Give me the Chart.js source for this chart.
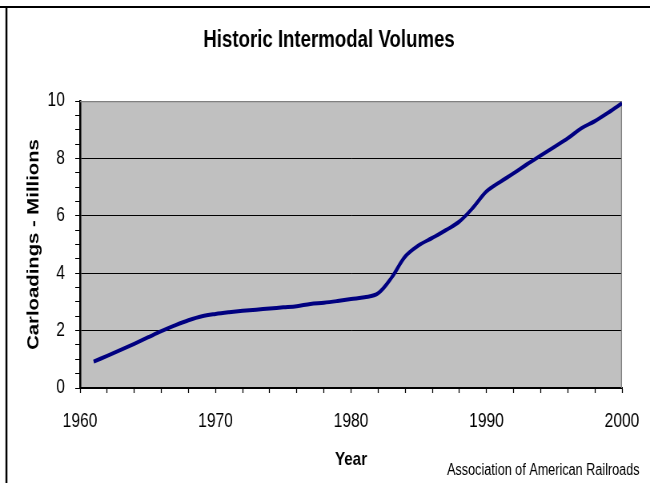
<!DOCTYPE html>
<html>
<head>
<meta charset="utf-8">
<title>Historic Intermodal Volumes</title>
<script src="https://cdn.jsdelivr.net/npm/chart.js@4/dist/chart.umd.min.js"></script>
<style>
  html, body { margin: 0; padding: 0; background: #fff; overflow: hidden; }
  /* the drawing buffer is wider than the box it is shown in, which gives the narrow lettering */
  canvas { display: block; }
</style>
</head>
<body>
<canvas id="chart" width="812" height="483" style="width:650px;height:483px"></canvas>
<script>
// Intermodal carloadings per year, millions
const years = [
  1961, 1962, 1963, 1964, 1965, 1966, 1967, 1968, 1969, 1970,
  1971, 1972, 1973, 1974, 1975, 1976, 1977, 1978, 1979, 1980,
  1981, 1982, 1983, 1984, 1985, 1986, 1987, 1988, 1989, 1990,
  1991, 1992, 1993, 1994, 1995, 1996, 1997, 1998, 1999, 2000
];
const carloadings = [
  0.92, 1.12, 1.33, 1.54, 1.76, 1.98, 2.18, 2.36, 2.50, 2.58,
  2.64, 2.69, 2.73, 2.77, 2.81, 2.85, 2.93, 2.97, 3.03, 3.10,
  3.16, 3.30, 3.85, 4.58, 4.97, 5.23, 5.50, 5.80, 6.28, 6.85,
  7.18, 7.48, 7.80, 8.10, 8.40, 8.70, 9.05, 9.30, 9.60, 9.92
];
const xLabelEvery = 10;   // year labels shown every decade
const yLabelEvery = 2;    // value labels / gridlines every 2 million

const chartTitle = 'Historic Intermodal Volumes';
const yTitle = 'Carloadings - Millions';
const xTitle = 'Year';
const sourceNote = 'Association of American Railroads';

const SANS = "'Liberation Sans', Arial, Helvetica, sans-serif";

// plot frame inside the 812-wide drawing buffer
const PLOT = { left: 100, right: 777, top: 101, bottom: 388 };

// Page background, grey plot area, outer frame, title and source note
const frame = {
  id: 'frame',
  beforeDraw(chart) {
    const { ctx, chartArea: a, width, height } = chart;
    ctx.save();
    ctx.fillStyle = '#ffffff';
    ctx.fillRect(0, 0, width, height);
    ctx.fillStyle = '#c0c0c0';
    ctx.fillRect(a.left, a.top, a.right - a.left, a.bottom - a.top);
    ctx.strokeStyle = '#000000';
    ctx.lineWidth = 2;
    ctx.beginPath();
    ctx.moveTo(0, 7);
    ctx.lineTo(width, 7);
    ctx.stroke();
    ctx.lineWidth = 2.5;
    ctx.beginPath();
    ctx.moveTo(8, 6);
    ctx.lineTo(8, height);
    ctx.stroke();
    ctx.restore();
  },
  beforeDatasetsDraw(chart) {
    const { ctx, chartArea: a } = chart;
    ctx.save();
    ctx.strokeStyle = '#808080';
    ctx.lineWidth = 1.25;
    ctx.beginPath();
    ctx.moveTo(a.left, a.top + 0.5);
    ctx.lineTo(a.right - 0.6, a.top + 0.5);
    ctx.lineTo(a.right - 0.6, a.bottom);
    ctx.stroke();
    ctx.restore();
  },
  afterDraw(chart) {
    const { ctx } = chart;
    ctx.save();
    ctx.fillStyle = '#000000';
    ctx.textBaseline = 'alphabetic';
    ctx.textAlign = 'center';
    ctx.font = `bold 23.3px ${SANS}`;
    ctx.fillText(chartTitle, 411, 47);
    ctx.textAlign = 'right';
    ctx.font = `15.8px ${SANS}`;
    ctx.fillText(sourceNote, 799, 475);
    ctx.restore();
  }
};

const chart = new Chart(document.getElementById('chart'), {
  type: 'line',
  data: {
    datasets: [{
      label: yTitle,
      data: years.map((yr, i) => ({ x: yr, y: carloadings[i] })),
      borderColor: '#000080',
      borderWidth: 4,
      pointRadius: 0,
      tension: 0.35,
      fill: false
    }]
  },
  options: {
    responsive: false,
    animation: false,
    devicePixelRatio: 1,
    layout: { padding: { top: PLOT.top, right: 812 - PLOT.right, left: 0, bottom: 0 } },
    plugins: {
      legend: { display: false },
      tooltip: { enabled: false },
      title: { display: false }
    },
    scales: {
      x: {
        type: 'linear',
        min: 1960,
        max: 2000,
        afterFit(s) {
          s.height = 483 - PLOT.bottom;
          // year labels may hang past the plot edges
          s.paddingLeft = 0;
          s.paddingRight = 0;
        },
        ticks: {
          stepSize: 2,
          autoSkip: false,
          maxRotation: 0,
          padding: 17,
          color: '#000000',
          font: { family: SANS, size: 19.5 },
          callback: v => (v % xLabelEvery === 0 ? String(v) : '')
        },
        grid: {
          drawOnChartArea: false,
          drawTicks: true,
          tickLength: 5,
          tickColor: '#000000',
          tickWidth: 1.25
        },
        border: { display: true, color: '#000000', width: 2 },
        title: {
          display: true,
          text: xTitle,
          color: '#000000',
          font: { family: SANS, size: 19, weight: 'bold' },
          padding: { top: 0, bottom: 12 }
        }
      },
      y: {
        min: 0,
        max: 10,
        afterFit(s) { s.width = PLOT.left; },
        ticks: {
          stepSize: 0.5,
          autoSkip: false,
          padding: 13,
          color: '#000000',
          font: { family: SANS, size: 19.5 },
          callback: v => (v % yLabelEvery === 0 ? String(v) : '')
        },
        grid: {
          color: c => {
            const v = c.tick ? c.tick.value : 0;
            return (v > 0 && v < 10 && v % yLabelEvery === 0) ? '#000000' : 'rgba(0,0,0,0)';
          },
          lineWidth: 1,
          drawTicks: true,
          tickLength: 6,
          tickColor: '#000000',
          tickWidth: 1
        },
        border: { display: true, color: '#000000', width: 2.5 },
        title: {
          display: true,
          text: yTitle,
          color: '#000000',
          font: { family: SANS, size: 20.3, weight: 'bold' },
          padding: { top: 30, bottom: 0 }
        }
      }
    }
  },
  plugins: [frame]
});

// settle the plot frame on its intended edges
const pad = chart.options.layout.padding;
pad.right += chart.chartArea.right - PLOT.right;
pad.top += PLOT.top - chart.chartArea.top;
chart.update();
</script>
</body>
</html>
